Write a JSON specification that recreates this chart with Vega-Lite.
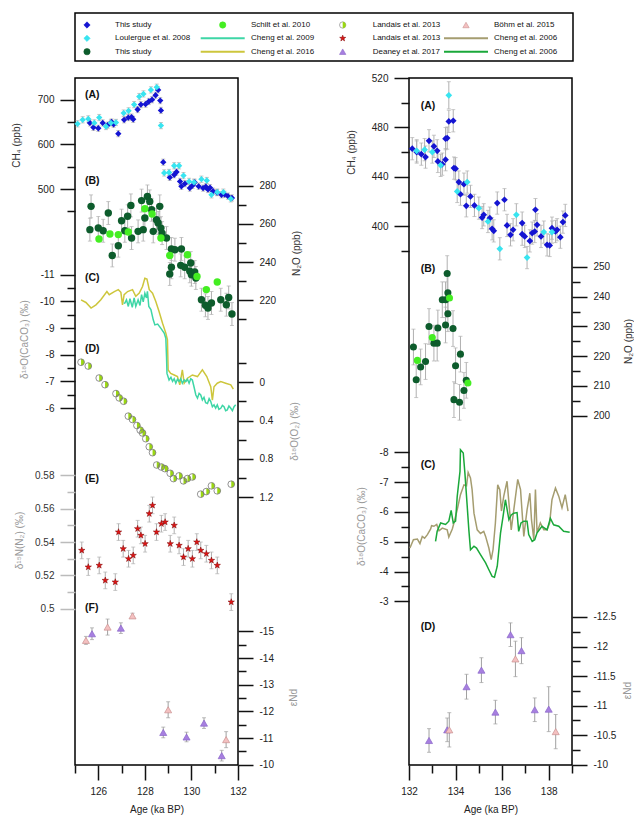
{
"$schema": "https://vega.github.io/schema/vega-lite/v6.json",
"padding": {"left": 10, "top": 12, "right": 0, "bottom": 0},
"background": "white",
"config": {
  "font": "Liberation Sans",
  "view": {"stroke": "black", "strokeWidth": 1.5},
  "axis": {"domain": false, "grid": false, "tickColor": "#111", "tickWidth": 1.5, "tickSize": 15, "labelFont": "Liberation Sans", "labelFontSize": 10, "labelColor": "#222", "labelPadding": 6, "labelFlush": false, "labelOverlap": false, "labelBound": false, "titleFont": "Liberation Sans", "titleFontSize": 10, "titleFontWeight": "normal", "titleColor": "#333", "labelExpr": "'' + datum.value"},
  "text": {"font": "Liberation Sans"}
},
"datasets": {
  "ch4L_this": [
    {"a":125.64,"v":648,"e":7},{"a":125.79,"v":638,"e":7},{"a":126.0,"v":636,"e":7},{"a":126.19,"v":648,"e":7},{"a":126.4,"v":643,"e":7},{"a":126.57,"v":650,"e":7},{"a":126.66,"v":645,"e":7},{"a":126.86,"v":624,"e":7},{"a":127.11,"v":655,"e":7},{"a":127.29,"v":660,"e":7},{"a":127.43,"v":661,"e":7},{"a":127.5,"v":656,"e":7},{"a":127.69,"v":678,"e":7},{"a":127.83,"v":689,"e":7},{"a":128.03,"v":690,"e":7},{"a":128.17,"v":696,"e":7},{"a":128.31,"v":700,"e":7},{"a":128.46,"v":710,"e":7},{"a":128.57,"v":722,"e":7},{"a":128.66,"v":698,"e":7},{"a":128.69,"v":676,"e":7},{"a":128.79,"v":560,"e":7},{"a":129.07,"v":526,"e":7},{"a":129.26,"v":532,"e":7},{"a":129.36,"v":538,"e":7},{"a":129.51,"v":517,"e":7},{"a":129.57,"v":506,"e":7},{"a":129.72,"v":512,"e":7},{"a":129.93,"v":502,"e":7},{"a":130.05,"v":508,"e":7},{"a":130.14,"v":515,"e":7},{"a":130.31,"v":506,"e":7},{"a":130.5,"v":502,"e":7},{"a":130.62,"v":505,"e":7},{"a":130.71,"v":499,"e":7},{"a":130.8,"v":503,"e":7},{"a":130.93,"v":495,"e":7},{"a":131.1,"v":492,"e":7},{"a":131.29,"v":487,"e":7},{"a":131.42,"v":488,"e":7},{"a":131.57,"v":484,"e":7},{"a":131.74,"v":480,"e":7}
  ],
  "ch4L_lou": [
    {"a":125.11,"v":646,"e":7},{"a":125.33,"v":655,"e":7},{"a":125.57,"v":657,"e":7},{"a":125.83,"v":648,"e":7},{"a":126.04,"v":660,"e":7},{"a":126.33,"v":640,"e":7},{"a":126.54,"v":648,"e":7},{"a":126.76,"v":649,"e":7},{"a":127.09,"v":670,"e":7},{"a":127.3,"v":675,"e":7},{"a":127.54,"v":689,"e":7},{"a":127.76,"v":707,"e":7},{"a":127.94,"v":713,"e":7},{"a":128.26,"v":722,"e":7},{"a":128.51,"v":728,"e":7},{"a":128.69,"v":642,"e":7},{"a":128.83,"v":536,"e":7},{"a":129.04,"v":537,"e":7},{"a":129.26,"v":552,"e":7},{"a":129.47,"v":552,"e":7},{"a":129.66,"v":530,"e":7},{"a":129.9,"v":517,"e":7},{"a":130.11,"v":515,"e":7},{"a":130.43,"v":522,"e":7},{"a":130.66,"v":519,"e":7},{"a":130.86,"v":487,"e":7},{"a":131.11,"v":493,"e":7},{"a":131.37,"v":493,"e":7},{"a":131.69,"v":478,"e":7}
  ],
  "n2oL_this": [
    {"a":125.69,"v":269.2,"e":6},{"a":125.64,"v":257.0,"e":6},{"a":126.0,"v":257.9,"e":6},{"a":126.21,"v":256.4,"e":6},{"a":126.43,"v":265.7,"e":6},{"a":126.6,"v":243.5,"e":6},{"a":126.86,"v":248.6,"e":6},{"a":127.0,"v":261.7,"e":6},{"a":127.14,"v":256.4,"e":6},{"a":127.26,"v":264.0,"e":6},{"a":127.4,"v":269.7,"e":6},{"a":127.43,"v":252.6,"e":6},{"a":127.71,"v":256.1,"e":6},{"a":127.86,"v":272.2,"e":6},{"a":127.93,"v":257.0,"e":6},{"a":128.0,"v":263.1,"e":6},{"a":128.11,"v":274.4,"e":6},{"a":128.21,"v":271.8,"e":6},{"a":128.29,"v":267.4,"e":6},{"a":128.36,"v":256.1,"e":6},{"a":128.5,"v":262.2,"e":6},{"a":128.64,"v":269.2,"e":6},{"a":128.57,"v":260.5,"e":6},{"a":128.69,"v":257.8,"e":6},{"a":128.74,"v":255.2,"e":6},{"a":128.93,"v":252.6,"e":6},{"a":129.14,"v":246.9,"e":6},{"a":129.29,"v":246.5,"e":6},{"a":129.57,"v":246.9,"e":6},{"a":129.14,"v":237.3,"e":6},{"a":129.07,"v":233.8,"e":6},{"a":129.54,"v":238.3,"e":6},{"a":129.71,"v":237.3,"e":6},{"a":129.97,"v":239.5,"e":6},{"a":129.93,"v":235.2,"e":6},{"a":130.0,"v":233.4,"e":6},{"a":130.14,"v":234.8,"e":6},{"a":130.19,"v":231.7,"e":6},{"a":130.43,"v":220.3,"e":6},{"a":130.6,"v":217.4,"e":6},{"a":130.71,"v":216.0,"e":6},{"a":130.86,"v":218.6,"e":6},{"a":131.26,"v":220.3,"e":6},{"a":131.5,"v":217.7,"e":6},{"a":131.6,"v":221.5,"e":6},{"a":131.74,"v":212.8,"e":6}
  ],
  "n2oL_sch": [
    {"a":126.03,"v":252.1},{"a":126.5,"v":254.7},{"a":126.86,"v":254.4},{"a":127.29,"v":255.8},{"a":128.0,"v":268.0},{"a":128.31,"v":265.2},{"a":128.69,"v":252.6},{"a":129.07,"v":243.5},{"a":129.83,"v":243.9},{"a":130.24,"v":232.5},{"a":130.64,"v":225.6},{"a":131.11,"v":229.6}
  ],
  "calL_16": [
    {"a":125.26,"v":-10.06},{"a":125.47,"v":-9.96},{"a":125.69,"v":-9.75},{"a":125.9,"v":-9.87},{"a":126.11,"v":-10.06},{"a":126.37,"v":-10.37},{"a":126.47,"v":-10.25},{"a":126.69,"v":-10.37},{"a":126.86,"v":-10.44},{"a":126.97,"v":-10.34},{"a":127.04,"v":-9.87},{"a":127.11,"v":-10.25},{"a":127.26,"v":-10.37},{"a":127.47,"v":-10.44},{"a":127.61,"v":-10.19},{"a":127.76,"v":-10.31},{"a":127.9,"v":-10.56},{"a":128.0,"v":-10.87},{"a":128.09,"v":-10.84},{"a":128.19,"v":-10.44},{"a":128.33,"v":-10.31},{"a":128.47,"v":-10.0},{"a":128.61,"v":-9.62},{"a":128.76,"v":-9.18},{"a":128.9,"v":-8.81},{"a":128.97,"v":-8.56},{"a":129.0,"v":-7.43},{"a":129.11,"v":-7.3},{"a":129.26,"v":-7.24},{"a":129.4,"v":-7.18},{"a":129.5,"v":-6.87},{"a":129.61,"v":-7.43},{"a":129.69,"v":-6.93},{"a":129.83,"v":-7.12},{"a":130.04,"v":-7.24},{"a":130.26,"v":-7.18},{"a":130.47,"v":-7.43},{"a":130.66,"v":-7.18},{"a":130.83,"v":-6.8},{"a":130.9,"v":-6.3},{"a":130.97,"v":-6.8},{"a":131.11,"v":-6.93},{"a":131.26,"v":-6.99},{"a":131.47,"v":-6.93},{"a":131.69,"v":-6.87},{"a":131.8,"v":-6.71}
  ],
  "calL_09": [
    {"a":127.09,"v":-9.93},{"a":127.14,"v":-9.94},{"a":127.21,"v":-10.06},{"a":127.29,"v":-9.81},{"a":127.36,"v":-10.1},{"a":127.46,"v":-9.78},{"a":127.54,"v":-10.13},{"a":127.61,"v":-9.81},{"a":127.71,"v":-10.06},{"a":127.79,"v":-9.85},{"a":127.86,"v":-10.25},{"a":127.93,"v":-9.98},{"a":128.0,"v":-10.31},{"a":128.07,"v":-10.13},{"a":128.11,"v":-10.38},{"a":128.17,"v":-9.81},{"a":128.26,"v":-9.69},{"a":128.36,"v":-9.31},{"a":128.43,"v":-9.12},{"a":128.55,"v":-9.15},{"a":128.69,"v":-8.99},{"a":128.83,"v":-8.81},{"a":128.9,"v":-8.62},{"a":128.93,"v":-7.93},{"a":128.95,"v":-7.3},{"a":129.04,"v":-7.05},{"a":129.12,"v":-7.15},{"a":129.19,"v":-7.0},{"a":129.26,"v":-7.1},{"a":129.33,"v":-6.93},{"a":129.4,"v":-7.08},{"a":129.47,"v":-7.0},{"a":129.54,"v":-7.1},{"a":129.61,"v":-6.93},{"a":129.69,"v":-7.05},{"a":129.76,"v":-6.99},{"a":129.83,"v":-7.08},{"a":129.9,"v":-6.93},{"a":129.97,"v":-7.1},{"a":130.04,"v":-7.05},{"a":130.11,"v":-6.8},{"a":130.19,"v":-6.49},{"a":130.26,"v":-6.37},{"a":130.33,"v":-6.55},{"a":130.4,"v":-6.49},{"a":130.47,"v":-6.3},{"a":130.54,"v":-6.4},{"a":130.61,"v":-6.2},{"a":130.69,"v":-6.17},{"a":130.76,"v":-6.35},{"a":130.83,"v":-6.24},{"a":130.9,"v":-6.05},{"a":130.97,"v":-6.12},{"a":131.04,"v":-6.0},{"a":131.11,"v":-6.12},{"a":131.18,"v":-5.95},{"a":131.26,"v":-5.99},{"a":131.33,"v":-6.1},{"a":131.4,"v":-6.05},{"a":131.47,"v":-5.9},{"a":131.54,"v":-5.93},{"a":131.61,"v":-6.08},{"a":131.69,"v":-5.99},{"a":131.76,"v":-5.9},{"a":131.83,"v":-6.05},{"a":131.9,"v":-6.12}
  ],
  "o2L": [
    {"a":125.26,"v":-0.21},{"a":125.57,"v":-0.17},{"a":126.04,"v":-0.045},{"a":126.29,"v":0.025},{"a":126.76,"v":0.118},{"a":126.9,"v":0.163},{"a":127.09,"v":0.198},{"a":127.29,"v":0.354},{"a":127.47,"v":0.389},{"a":127.66,"v":0.452},{"a":127.8,"v":0.5},{"a":127.9,"v":0.53},{"a":128.04,"v":0.59},{"a":128.19,"v":0.674},{"a":128.33,"v":0.736},{"a":128.51,"v":0.865},{"a":128.71,"v":0.886},{"a":128.86,"v":0.903},{"a":129.09,"v":0.952},{"a":129.23,"v":1.007},{"a":129.47,"v":0.979},{"a":129.66,"v":1.031},{"a":129.83,"v":1.007},{"a":130.04,"v":0.99},{"a":130.4,"v":1.17},{"a":130.64,"v":1.143},{"a":130.86,"v":1.083},{"a":131.11,"v":1.135},{"a":131.71,"v":1.066}
  ],
  "n15L": [
    {"a":125.29,"v":0.535,"e":0.005},{"a":125.57,"v":0.525,"e":0.005},{"a":126.04,"v":0.526,"e":0.005},{"a":126.3,"v":0.517,"e":0.005},{"a":126.73,"v":0.516,"e":0.005},{"a":126.87,"v":0.546,"e":0.005},{"a":127.07,"v":0.536,"e":0.005},{"a":127.3,"v":0.53,"e":0.005},{"a":127.5,"v":0.532,"e":0.005},{"a":127.69,"v":0.548,"e":0.005},{"a":127.83,"v":0.544,"e":0.005},{"a":128.01,"v":0.539,"e":0.005},{"a":128.19,"v":0.557,"e":0.005},{"a":128.33,"v":0.562,"e":0.005},{"a":128.5,"v":0.546,"e":0.005},{"a":128.71,"v":0.551,"e":0.005},{"a":128.87,"v":0.552,"e":0.005},{"a":129.09,"v":0.539,"e":0.005},{"a":129.26,"v":0.55,"e":0.005},{"a":129.47,"v":0.538,"e":0.005},{"a":129.66,"v":0.531,"e":0.005},{"a":129.86,"v":0.536,"e":0.005},{"a":130.04,"v":0.53,"e":0.005},{"a":130.23,"v":0.54,"e":0.005},{"a":130.4,"v":0.535,"e":0.005},{"a":130.64,"v":0.533,"e":0.005},{"a":130.86,"v":0.529,"e":0.005},{"a":131.11,"v":0.526,"e":0.005},{"a":131.71,"v":0.504,"e":0.005}
  ],
  "ndL_dea": [
    {"a":125.73,"v":-14.91,"e":0.22},{"a":126.97,"v":-15.12,"e":0.2},{"a":128.79,"v":-11.21,"e":0.2},{"a":129.79,"v":-11.04,"e":0.18},{"a":130.54,"v":-11.56,"e":0.2},{"a":131.3,"v":-10.34,"e":0.2}
  ],
  "ndL_boh": [
    {"a":125.47,"v":-14.66,"e":0.15},{"a":126.4,"v":-15.16,"e":0.3},{"a":127.47,"v":-15.58,"e":0.1},{"a":129.0,"v":-12.06,"e":0.3},{"a":131.49,"v":-10.94,"e":0.3}
  ],
  "ch4R_this": [
    {"a":132.14,"v":462.8,"e":9},{"a":132.33,"v":460.1,"e":9},{"a":132.53,"v":458.4,"e":9},{"a":132.71,"v":456,"e":9},{"a":132.86,"v":469.2,"e":9},{"a":133.07,"v":464.7,"e":9},{"a":133.21,"v":461.1,"e":9},{"a":133.24,"v":452.5,"e":9},{"a":133.43,"v":450.3,"e":9},{"a":133.57,"v":453.9,"e":9},{"a":133.57,"v":470.9,"e":9},{"a":133.64,"v":471.4,"e":9},{"a":133.71,"v":484.9,"e":9},{"a":133.9,"v":485.4,"e":9},{"a":133.93,"v":447.1,"e":9},{"a":134.0,"v":446.6,"e":9},{"a":134.14,"v":435.8,"e":9},{"a":134.21,"v":426,"e":9},{"a":134.36,"v":434.1,"e":9},{"a":134.46,"v":416.6,"e":9},{"a":134.64,"v":424.2,"e":9},{"a":134.81,"v":416.9,"e":9},{"a":135.14,"v":407.1,"e":9},{"a":135.21,"v":409.3,"e":9},{"a":135.47,"v":406.6,"e":9},{"a":135.57,"v":398,"e":9},{"a":135.64,"v":396.3,"e":9},{"a":135.79,"v":418.8,"e":9},{"a":136.1,"v":421.5,"e":9},{"a":136.21,"v":400.7,"e":9},{"a":136.36,"v":393.1,"e":9},{"a":136.47,"v":397.2,"e":9},{"a":136.86,"v":402.6,"e":9},{"a":136.86,"v":393.6,"e":9},{"a":136.97,"v":391.8,"e":9},{"a":137.19,"v":388.2,"e":9},{"a":137.29,"v":394.5,"e":9},{"a":137.4,"v":395.8,"e":9},{"a":137.43,"v":413.4,"e":9},{"a":137.5,"v":401.2,"e":9},{"a":137.67,"v":391.8,"e":9},{"a":137.93,"v":385,"e":9},{"a":138.04,"v":384.5,"e":9},{"a":138.14,"v":398.5,"e":9},{"a":138.29,"v":395.8,"e":9},{"a":138.36,"v":397.2,"e":9},{"a":138.5,"v":391.2,"e":9},{"a":138.61,"v":403.4,"e":9},{"a":138.71,"v":408.8,"e":9}
  ],
  "ch4R_lou": [
    {"a":132.33,"v":461.1,"e":9},{"a":132.67,"v":462,"e":9},{"a":133.0,"v":460.1,"e":9},{"a":133.36,"v":449.3,"e":9},{"a":133.71,"v":506,"e":11},{"a":134.07,"v":428.2,"e":9},{"a":134.5,"v":435.8,"e":9},{"a":135.0,"v":414.7,"e":9},{"a":135.39,"v":403.9,"e":9},{"a":135.9,"v":381.8,"e":9},{"a":136.61,"v":409.3,"e":9},{"a":137.07,"v":374.7,"e":9},{"a":137.79,"v":395.3,"e":9},{"a":138.14,"v":395.3,"e":9}
  ],
  "n2oR_this": [
    {"a":132.19,"v":223.1,"e":6},{"a":132.31,"v":212.1,"e":6},{"a":132.5,"v":216.4,"e":6},{"a":132.71,"v":218.2,"e":6},{"a":132.86,"v":230.0,"e":6},{"a":133.07,"v":224.4,"e":6},{"a":133.21,"v":224.4,"e":6},{"a":133.24,"v":229.5,"e":6},{"a":133.43,"v":239.0,"e":6},{"a":133.57,"v":230.5,"e":6},{"a":133.57,"v":239.0,"e":6},{"a":133.64,"v":247.8,"e":6},{"a":133.67,"v":241.3,"e":6},{"a":133.67,"v":234.3,"e":6},{"a":133.89,"v":229.3,"e":6},{"a":133.93,"v":205.4,"e":6},{"a":134.0,"v":216.8,"e":6},{"a":134.17,"v":204.5,"e":6},{"a":134.21,"v":220.7,"e":6},{"a":134.36,"v":208.5,"e":6},{"a":134.46,"v":211.9,"e":6}
  ],
  "n2oR_sch": [
    {"a":132.36,"v":218.6},{"a":133.0,"v":226.3},{"a":133.74,"v":239.6},{"a":134.53,"v":211.0}
  ],
  "calR_kh": [
    {"a":132.04,"v":-4.79},{"a":132.19,"v":-5.07},{"a":132.36,"v":-5.09},{"a":132.47,"v":-4.94},{"a":132.57,"v":-5.18},{"a":132.67,"v":-5.12},{"a":132.79,"v":-5.24},{"a":132.93,"v":-5.43},{"a":132.97,"v":-5.54},{"a":133.07,"v":-5.52},{"a":133.19,"v":-5.58},{"a":133.29,"v":-5.37},{"a":133.43,"v":-5.46},{"a":133.64,"v":-5.4},{"a":133.71,"v":-5.16},{"a":133.86,"v":-5.43},{"a":133.93,"v":-5.63},{"a":134.07,"v":-6.07},{"a":134.21,"v":-6.58},{"a":134.36,"v":-6.91},{"a":134.47,"v":-6.88},{"a":134.54,"v":-7.33},{"a":134.64,"v":-7.14},{"a":134.71,"v":-6.75},{"a":134.79,"v":-5.96},{"a":134.93,"v":-5.4},{"a":135.07,"v":-5.28},{"a":135.21,"v":-5.35},{"a":135.29,"v":-5.18},{"a":135.43,"v":-4.79},{"a":135.53,"v":-4.4},{"a":135.61,"v":-4.74},{"a":135.71,"v":-5.63},{"a":135.81,"v":-6.91},{"a":135.9,"v":-6.75},{"a":135.97,"v":-6.03},{"a":136.07,"v":-6.53},{"a":136.21,"v":-7.03},{"a":136.33,"v":-5.96},{"a":136.39,"v":-5.4},{"a":136.5,"v":-6.07},{"a":136.67,"v":-7.09},{"a":136.79,"v":-6.75},{"a":136.86,"v":-5.96},{"a":136.93,"v":-5.18},{"a":137.0,"v":-5.63},{"a":137.07,"v":-6.07},{"a":137.19,"v":-6.63},{"a":137.26,"v":-5.74},{"a":137.36,"v":-5.07},{"a":137.43,"v":-6.75},{"a":137.5,"v":-5.3},{"a":137.64,"v":-5.63},{"a":137.79,"v":-5.4},{"a":137.93,"v":-5.4},{"a":138.04,"v":-5.63},{"a":138.14,"v":-6.41},{"a":138.29,"v":-6.8},{"a":138.43,"v":-6.53},{"a":138.57,"v":-6.14},{"a":138.71,"v":-6.58},{"a":138.83,"v":-6.03}
  ],
  "calR_gr": [
    {"a":133.14,"v":-5.01},{"a":133.21,"v":-5.35},{"a":133.36,"v":-5.63},{"a":133.57,"v":-5.58},{"a":133.71,"v":-5.69},{"a":133.81,"v":-6.05},{"a":133.9,"v":-5.63},{"a":134.0,"v":-5.69},{"a":134.07,"v":-6.52},{"a":134.19,"v":-7.36},{"a":134.21,"v":-8.09},{"a":134.33,"v":-7.98},{"a":134.4,"v":-7.31},{"a":134.5,"v":-6.19},{"a":134.57,"v":-5.4},{"a":134.64,"v":-4.73},{"a":134.79,"v":-4.85},{"a":134.9,"v":-4.79},{"a":135.07,"v":-4.57},{"a":135.29,"v":-4.29},{"a":135.43,"v":-4.06},{"a":135.57,"v":-3.84},{"a":135.67,"v":-3.81},{"a":135.79,"v":-4.18},{"a":135.93,"v":-5.29},{"a":136.04,"v":-5.85},{"a":136.14,"v":-6.41},{"a":136.29,"v":-5.74},{"a":136.39,"v":-5.9},{"a":136.5,"v":-5.96},{"a":136.64,"v":-5.98},{"a":136.71,"v":-5.35},{"a":136.81,"v":-5.63},{"a":136.93,"v":-5.69},{"a":137.07,"v":-5.69},{"a":137.14,"v":-5.24},{"a":137.29,"v":-5.01},{"a":137.4,"v":-5.07},{"a":137.5,"v":-5.3},{"a":137.71,"v":-5.52},{"a":137.93,"v":-5.4},{"a":138.07,"v":-5.79},{"a":138.21,"v":-5.57},{"a":138.43,"v":-5.52},{"a":138.64,"v":-5.35},{"a":138.9,"v":-5.32}
  ],
  "ndR_dea": [
    {"a":132.86,"v":-10.41,"e":0.2},{"a":133.64,"v":-10.59,"e":0.2},{"a":134.47,"v":-11.32,"e":0.21},{"a":135.11,"v":-11.6,"e":0.21},{"a":135.71,"v":-10.89,"e":0.2},{"a":136.36,"v":-12.2,"e":0.2},{"a":136.83,"v":-11.93,"e":0.22},{"a":137.4,"v":-10.93,"e":0.2},{"a":138.0,"v":-10.94,"e":0.38}
  ],
  "ndR_boh": [
    {"a":133.73,"v":-10.59,"e":0.29},{"a":136.57,"v":-11.79,"e":0.3},{"a":138.3,"v":-10.56,"e":0.29}
  ],
  "labels": [
    {"p":"LA","t":"(A)","a":125.43,"v":710.5},{"p":"LB","t":"(B)","a":125.43,"v":282.5},{"p":"LC","t":"(C)","a":125.43,"v":-10.88},{"p":"LD","t":"(D)","a":125.43,"v":-0.348},{"p":"LE","t":"(E)","a":125.43,"v":0.5778},{"p":"LF","t":"(F)","a":125.43,"v":-15.87},
    {"p":"RA","t":"(A)","a":132.5,"v":497.3},{"p":"RB","t":"(B)","a":132.5,"v":249.4},{"p":"RC","t":"(C)","a":132.5,"v":-7.58},{"p":"RD","t":"(D)","a":132.5,"v":-12.33}
  ],
  "legend": [
    {"k":"a","m":"pt","c":0,"r":0,"t":"This study"},{"k":"b","m":"pt","c":0,"r":1,"t":"Loulergue et al. 2008"},{"k":"c","m":"pt","c":0,"r":2,"t":"This study"},
    {"k":"d","m":"pt","c":1,"r":0,"t":"Schilt et al. 2010"},{"k":"e","m":"ln","c":1,"r":1,"t":"Cheng et al. 2009"},{"k":"f","m":"ln","c":1,"r":2,"t":"Cheng et al. 2016"},
    {"k":"g","m":"pt","c":2,"r":0,"t":"Landais et al. 2013"},{"k":"h","m":"pt","c":2,"r":1,"t":"Landais et al. 2013"},{"k":"i","m":"pt","c":2,"r":2,"t":"Deaney et al. 2017"},
    {"k":"j","m":"pt","c":3,"r":0,"t":"Böhm et al. 2015"},{"k":"k","m":"ln","c":3,"r":1,"t":"Cheng et al. 2006"},{"k":"l","m":"ln","c":3,"r":2,"t":"Cheng et al. 2006"}
  ]
},
"spacing": 10,
"vconcat": [
  {
    "width": 498, "height": 48,
    "view": {"stroke": "black", "strokeWidth": 1.5},
    "data": {"name": "legend"},
    "encoding": {
      "x": {"field": "c", "type": "quantitative", "scale": {"domain": [0, 1, 2, 3], "range": [12, 147.7, 267.7, 391]}, "axis": null},
      "y": {"field": "r", "type": "quantitative", "scale": {"domain": [0, 2], "range": [12, 38.7]}, "axis": null}
    },
    "layer": [
      {"transform": [{"filter": "datum.m == 'ln'"}],
       "mark": {"type": "point", "shape": "stroke", "filled": false, "size": 1936, "strokeWidth": 2, "opacity": 1},
       "encoding": {
         "stroke": {"field": "k", "type": "nominal", "legend": null, "scale": {"domain": ["a","b","c","d","e","f","g","h","i","j","k","l"], "range": ["#1414d2","#38e4f0","#0d5c2c","#44ee22","#3ed6a6","#cdc63c","#777777","#8a0a0a","#8a66c8","#c89090","#a59d70","#1aa83a"]}}
       }},
      {"transform": [{"filter": "datum.m == 'pt'"}],
       "mark": {"type": "point", "filled": true, "size": 40, "strokeWidth": 0.6, "opacity": 1},
       "encoding": {
         "shape": {"field": "k", "type": "nominal", "legend": null, "scale": {"domain": ["a","b","c","d","e","f","g","h","i","j","k","l"], "range": ["diamond","diamond","circle","circle","stroke","stroke","circle","M0,-1L0.235,-0.324L0.951,-0.309L0.38,0.124L0.588,0.809L0,0.4L-0.588,0.809L-0.38,0.124L-0.951,-0.309L-0.235,-0.324Z","triangle-up","triangle-up","stroke","stroke"]}},
         "fill": {"field": "k", "type": "nominal", "legend": null, "scale": {"domain": ["a","b","c","d","e","f","g","h","i","j","k","l"], "range": ["#1414d2","#38e4f0","#0d5c2c","#44ee22","#3ed6a6","#cdc63c","#ffffff","#e01515","#a77fe0","#f4c0c0","#a59d70","#1aa83a"]}},
         "stroke": {"field": "k", "type": "nominal", "legend": null, "scale": {"domain": ["a","b","c","d","e","f","g","h","i","j","k","l"], "range": ["#1414d2","#38e4f0","#0d5c2c","#44ee22","#3ed6a6","#cdc63c","#777777","#8a0a0a","#8a66c8","#c89090","#a59d70","#1aa83a"]}}
       }},
      {"transform": [{"filter": "datum.k == 'g'"}], "mark": {"type": "point", "shape": "M0,-1A1,1,0,0,1,0,1Z", "filled": true, "color": "#9ad810", "size": 40, "opacity": 1}},
      {"mark": {"type": "text", "align": "left", "baseline": "middle", "fontSize": 8, "color": "#111"},
       "encoding": {"x": {"field": "c", "type": "quantitative", "scale": {"domain": [0, 1, 2, 3], "range": [40, 176, 297.7, 419]}, "axis": null}, "text": {"field": "t"}}}
    ],
    "resolve": {"scale": {"x": "independent"}}
  },
  {
    "spacing": 43,
    "hconcat": [
      {
        "width": 163, "height": 687,
        "layer": [
          {
            "encoding": {
              "x": {"field": "a", "type": "quantitative", "scale": {"domain": [125, 132], "nice": false, "zero": false}, "axis": {"orient": "bottom", "values": [126, 128, 130, 132], "title": "Age (ka BP)", "tickSize": 15, "labelPadding": 6, "titlePadding": 8, "titleColor": "#222"}},
              "y": {"field": "v", "type": "quantitative", "scale": {"domain": [-790, 748.6], "nice": false, "zero": false}, "axis": null}
            },
            "layer": [
              {"data": {"name": "ch4L_this"}, "mark": {"type": "errorbar", "color": "#b0b0b0", "thickness": 1, "ticks": {"size": 4}}, "encoding": {"yError": {"field": "e"}}},
              {"data": {"name": "ch4L_lou"}, "mark": {"type": "errorbar", "color": "#b0b0b0", "thickness": 1, "ticks": {"size": 4}}, "encoding": {"yError": {"field": "e"}}},
              {"data": {"name": "ch4L_this"}, "mark": {"type": "point", "shape": "diamond", "filled": true, "color": "#1414d2", "size": 40, "opacity": 1},
               "encoding": {"y": {"field": "v", "type": "quantitative", "scale": {"domain": [-790, 748.6], "nice": false, "zero": false}, "axis": {"orient": "left", "values": [500, 600, 700], "title": "CH₄ (ppb)", "titleX": -59, "titleY": 67, "titleAngle": 270, "titleBaseline": "middle", "titleAlign": "center"}}}},
              {"data": {"name": "ch4L_lou"}, "mark": {"type": "point", "shape": "diamond", "filled": true, "color": "#38e4f0", "size": 40, "opacity": 1}},
              {"data": {"name": "labels"}, "transform": [{"filter": "datum.p == 'LA'"}], "mark": {"type": "text", "fontWeight": "bold", "fontSize": 10.5, "align": "left", "baseline": "middle", "color": "#111"},
               "encoding": {"text": {"field": "t"}, "y": {"field": "v", "type": "quantitative", "scale": {"domain": [-790, 748.6], "nice": false, "zero": false}, "axis": {"orient": "left", "values": [450, 550, 650, 750], "labels": false, "tickSize": 8, "title": null}}}}
            ],
            "resolve": {"axis": {"y": "independent"}}
          },
          {
            "encoding": {
              "x": {"field": "a", "type": "quantitative", "scale": {"domain": [125, 132], "nice": false, "zero": false}, "axis": {"orient": "bottom", "values": [125, 127, 129, 131], "labels": false, "tickSize": 8, "title": null}},
              "y": {"field": "v", "type": "quantitative", "scale": {"domain": [-23.3, 336.4], "nice": false, "zero": false}, "axis": null}
            },
            "layer": [
              {"data": {"name": "n2oL_this"}, "mark": {"type": "errorbar", "color": "#b0b0b0", "thickness": 1, "ticks": {"size": 4}}, "encoding": {"yError": {"field": "e"}}},
              {"data": {"name": "n2oL_this"}, "mark": {"type": "point", "shape": "circle", "filled": true, "color": "#0d5c2c", "size": 55, "opacity": 1},
               "encoding": {"y": {"field": "v", "type": "quantitative", "scale": {"domain": [-23.3, 336.4], "nice": false, "zero": false}, "axis": {"orient": "right", "values": [220, 240, 260, 280], "title": "N₂O (ppb)", "titleX": 58, "titleY": 175, "titleAngle": 270, "titleBaseline": "middle", "titleAlign": "center"}}}},
              {"data": {"name": "n2oL_sch"}, "mark": {"type": "point", "shape": "circle", "filled": true, "color": "#44ee22", "size": 55, "opacity": 1}},
              {"data": {"name": "labels"}, "transform": [{"filter": "datum.p == 'LB'"}], "mark": {"type": "text", "fontWeight": "bold", "fontSize": 10.5, "align": "left", "baseline": "middle", "color": "#111"},
               "encoding": {"text": {"field": "t"}, "y": {"field": "v", "type": "quantitative", "scale": {"domain": [-23.3, 336.4], "nice": false, "zero": false}, "axis": {"orient": "right", "values": [210, 230, 250, 270], "labels": false, "tickSize": 8, "title": null}}}}
            ],
            "resolve": {"axis": {"y": "independent"}}
          },
          {
            "encoding": {
              "x": {"field": "a", "type": "quantitative", "scale": {"domain": [125, 132], "nice": false, "zero": false}, "axis": null},
              "y": {"field": "v", "type": "quantitative", "scale": {"domain": [-18.38, 7.39], "reverse": true, "nice": false, "zero": false}, "axis": null}
            },
            "layer": [
              {"data": {"name": "calL_16"}, "mark": {"type": "line", "color": "#cdc63c", "strokeWidth": 1.5},
               "encoding": {"y": {"field": "v", "type": "quantitative", "scale": {"domain": [-18.38, 7.39], "reverse": true, "nice": false, "zero": false}, "axis": {"orient": "left", "values": [-11, -10, -9, -8, -7, -6], "title": "δ¹⁸O(CaCO₃) (‰)", "titleColor": "#999", "titleX": -51, "titleY": 261, "titleAngle": 270, "titleBaseline": "middle", "titleAlign": "center"}}}},
              {"data": {"name": "calL_09"}, "mark": {"type": "line", "color": "#3ed6a6", "strokeWidth": 1.5}},
              {"data": {"name": "labels"}, "transform": [{"filter": "datum.p == 'LC'"}], "mark": {"type": "text", "fontWeight": "bold", "fontSize": 10.5, "align": "left", "baseline": "middle", "color": "#111"},
               "encoding": {"text": {"field": "t"}, "y": {"field": "v", "type": "quantitative", "scale": {"domain": [-18.38, 7.39], "reverse": true, "nice": false, "zero": false}, "axis": {"orient": "left", "values": [-10.5, -9.5, -8.5, -7.5, -6.5], "labels": false, "tickSize": 8, "title": null}}}}
            ],
            "resolve": {"axis": {"y": "independent"}}
          },
          {
            "encoding": {
              "x": {"field": "a", "type": "quantitative", "scale": {"domain": [125, 132], "nice": false, "zero": false}, "axis": null},
              "y": {"field": "v", "type": "quantitative", "scale": {"domain": [-3.183, 4.003], "reverse": true, "nice": false, "zero": false}, "axis": null}
            },
            "layer": [
              {"data": {"name": "o2L"}, "mark": {"type": "point", "shape": "circle", "filled": true, "color": "#ffffff", "size": 45, "opacity": 1},
               "encoding": {"y": {"field": "v", "type": "quantitative", "scale": {"domain": [-3.183, 4.003], "reverse": true, "nice": false, "zero": false}, "axis": {"orient": "right", "values": [0, 0.4, 0.8, 1.2], "title": "δ¹⁸O(O₂) (‰)", "titleColor": "#999", "titleX": 56, "titleY": 353, "titleAngle": 270, "titleBaseline": "middle", "titleAlign": "center"}}}},
              {"data": {"name": "o2L"}, "mark": {"type": "point", "shape": "M0,-1A1,1,0,0,1,0,1Z", "filled": true, "color": "#9ad810", "size": 45, "opacity": 1}},
              {"data": {"name": "o2L"}, "mark": {"type": "point", "shape": "circle", "filled": false, "color": "#777777", "strokeWidth": 0.8, "size": 45, "opacity": 1}},
              {"data": {"name": "labels"}, "transform": [{"filter": "datum.p == 'LD'"}], "mark": {"type": "text", "fontWeight": "bold", "fontSize": 10.5, "align": "left", "baseline": "middle", "color": "#111"},
               "encoding": {"text": {"field": "t"}, "y": {"field": "v", "type": "quantitative", "scale": {"domain": [-3.183, 4.003], "reverse": true, "nice": false, "zero": false}, "axis": {"orient": "right", "values": [-0.2, 0.2, 0.6, 1.0], "labels": false, "tickSize": 8, "title": null}}}}
            ],
            "resolve": {"axis": {"y": "independent"}}
          },
          {
            "encoding": {
              "x": {"field": "a", "type": "quantitative", "scale": {"domain": [125, 132], "nice": false, "zero": false}, "axis": null},
              "y": {"field": "v", "type": "quantitative", "scale": {"domain": [0.4063, 0.8183], "nice": false, "zero": false}, "axis": null}
            },
            "layer": [
              {"data": {"name": "n15L"}, "mark": {"type": "errorbar", "color": "#b0b0b0", "thickness": 1, "ticks": {"size": 4}}, "encoding": {"yError": {"field": "e"}}},
              {"data": {"name": "n15L"}, "mark": {"type": "point", "shape": "M0,-1L0.235,-0.324L0.951,-0.309L0.38,0.124L0.588,0.809L0,0.4L-0.588,0.809L-0.38,0.124L-0.951,-0.309L-0.235,-0.324Z", "filled": true, "fill": "#e01515", "stroke": "#7a0000", "strokeWidth": 0.5, "size": 45, "opacity": 1},
               "encoding": {"y": {"field": "v", "type": "quantitative", "scale": {"domain": [0.4063, 0.8183], "nice": false, "zero": false}, "axis": {"orient": "left", "values": [0.5, 0.52, 0.54, 0.56, 0.58], "tickColor": "#bbbbbb", "labelColor": "#333", "title": "δ¹⁵N(N₂) (‰)", "titleColor": "#999", "titleX": -56, "titleY": 462, "titleAngle": 270, "titleBaseline": "middle", "titleAlign": "center"}}}},
              {"data": {"name": "labels"}, "transform": [{"filter": "datum.p == 'LE'"}], "mark": {"type": "text", "fontWeight": "bold", "fontSize": 10.5, "align": "left", "baseline": "middle", "color": "#111"},
               "encoding": {"text": {"field": "t"}, "y": {"field": "v", "type": "quantitative", "scale": {"domain": [0.4063, 0.8183], "nice": false, "zero": false}, "axis": {"orient": "left", "values": [0.51, 0.53, 0.55, 0.57], "tickColor": "#bbbbbb", "labels": false, "tickSize": 8, "title": null}}}}
            ],
            "resolve": {"axis": {"y": "independent"}}
          },
          {
            "encoding": {
              "x": {"field": "a", "type": "quantitative", "scale": {"domain": [125, 132], "nice": false, "zero": false}, "axis": null},
              "y": {"field": "v", "type": "quantitative", "scale": {"domain": [-35.74, -9.99], "reverse": true, "nice": false, "zero": false}, "axis": null}
            },
            "layer": [
              {"data": {"name": "ndL_dea"}, "mark": {"type": "errorbar", "color": "#a0a0a0", "thickness": 1, "ticks": {"size": 4}}, "encoding": {"yError": {"field": "e"}}},
              {"data": {"name": "ndL_boh"}, "mark": {"type": "errorbar", "color": "#a0a0a0", "thickness": 1, "ticks": {"size": 4}}, "encoding": {"yError": {"field": "e"}}},
              {"data": {"name": "ndL_dea"}, "mark": {"type": "point", "shape": "triangle-up", "filled": true, "fill": "#a77fe0", "stroke": "#8a66c8", "strokeWidth": 0.7, "size": 50, "opacity": 1},
               "encoding": {"y": {"field": "v", "type": "quantitative", "scale": {"domain": [-35.74, -9.99], "reverse": true, "nice": false, "zero": false}, "axis": {"orient": "right", "values": [-15, -14, -13, -12, -11, -10], "title": "εNd", "titleColor": "#999", "titleX": 55, "titleY": 619, "titleAngle": 270, "titleBaseline": "middle", "titleAlign": "center"}}}},
              {"data": {"name": "ndL_boh"}, "mark": {"type": "point", "shape": "triangle-up", "filled": true, "fill": "#f4c0c0", "stroke": "#c89090", "strokeWidth": 0.7, "size": 50, "opacity": 1}},
              {"data": {"name": "labels"}, "transform": [{"filter": "datum.p == 'LF'"}], "mark": {"type": "text", "fontWeight": "bold", "fontSize": 10.5, "align": "left", "baseline": "middle", "color": "#111"},
               "encoding": {"text": {"field": "t"}, "y": {"field": "v", "type": "quantitative", "scale": {"domain": [-35.74, -9.99], "reverse": true, "nice": false, "zero": false}, "axis": {"orient": "right", "values": [-14.5, -13.5, -12.5, -11.5, -10.5], "labels": false, "tickSize": 8, "title": null}}}}
            ],
            "resolve": {"axis": {"y": "independent"}}
          }
        ],
        "resolve": {"scale": {"y": "independent"}, "axis": {"x": "independent", "y": "independent"}}
      },
      {
        "width": 163, "height": 687,
        "layer": [
          {
            "encoding": {
              "x": {"field": "a", "type": "quantitative", "scale": {"domain": [132, 139], "nice": false, "zero": false}, "axis": {"orient": "bottom", "values": [132, 134, 136, 138], "title": "Age (ka BP)", "tickSize": 15, "labelPadding": 6, "titlePadding": 8, "titleColor": "#222"}},
              "y": {"field": "v", "type": "quantitative", "scale": {"domain": [-35.9, 520], "nice": false, "zero": false}, "axis": null}
            },
            "layer": [
              {"data": {"name": "ch4R_this"}, "mark": {"type": "errorbar", "color": "#b0b0b0", "thickness": 1, "ticks": {"size": 4}}, "encoding": {"yError": {"field": "e"}}},
              {"data": {"name": "ch4R_lou"}, "mark": {"type": "errorbar", "color": "#b0b0b0", "thickness": 1, "ticks": {"size": 4}}, "encoding": {"yError": {"field": "e"}}},
              {"data": {"name": "ch4R_this"}, "mark": {"type": "point", "shape": "diamond", "filled": true, "color": "#1414d2", "size": 45, "opacity": 1},
               "encoding": {"y": {"field": "v", "type": "quantitative", "scale": {"domain": [-35.9, 520], "nice": false, "zero": false}, "axis": {"orient": "left", "values": [400, 440, 480, 520], "title": "CH₄ (ppb)", "titleX": -58, "titleY": 74, "titleAngle": 270, "titleBaseline": "middle", "titleAlign": "center"}}}},
              {"data": {"name": "ch4R_lou"}, "mark": {"type": "point", "shape": "diamond", "filled": true, "color": "#38e4f0", "size": 45, "opacity": 1}},
              {"data": {"name": "labels"}, "transform": [{"filter": "datum.p == 'RA'"}], "mark": {"type": "text", "fontWeight": "bold", "fontSize": 10.5, "align": "left", "baseline": "middle", "color": "#111"},
               "encoding": {"text": {"field": "t"}, "y": {"field": "v", "type": "quantitative", "scale": {"domain": [-35.9, 520], "nice": false, "zero": false}, "axis": {"orient": "left", "values": [380, 420, 460, 500], "labels": false, "tickSize": 8, "title": null}}}}
            ],
            "resolve": {"axis": {"y": "independent"}}
          },
          {
            "encoding": {
              "x": {"field": "a", "type": "quantitative", "scale": {"domain": [132, 139], "nice": false, "zero": false}, "axis": {"orient": "bottom", "values": [133, 135, 137, 139], "labels": false, "tickSize": 8, "title": null}},
              "y": {"field": "v", "type": "quantitative", "scale": {"domain": [82.55, 313.55], "nice": false, "zero": false}, "axis": null}
            },
            "layer": [
              {"data": {"name": "n2oR_this"}, "mark": {"type": "errorbar", "color": "#b0b0b0", "thickness": 1, "ticks": {"size": 4}}, "encoding": {"yError": {"field": "e"}}},
              {"data": {"name": "n2oR_this"}, "mark": {"type": "point", "shape": "circle", "filled": true, "color": "#0d5c2c", "size": 50, "opacity": 1},
               "encoding": {"y": {"field": "v", "type": "quantitative", "scale": {"domain": [82.55, 313.55], "nice": false, "zero": false}, "axis": {"orient": "right", "values": [200, 210, 220, 230, 240, 250], "title": "N₂O (ppb)", "titleX": 56, "titleY": 263, "titleAngle": 270, "titleBaseline": "middle", "titleAlign": "center"}}}},
              {"data": {"name": "n2oR_sch"}, "mark": {"type": "point", "shape": "circle", "filled": true, "color": "#44ee22", "size": 50, "opacity": 1}},
              {"data": {"name": "labels"}, "transform": [{"filter": "datum.p == 'RB'"}], "mark": {"type": "text", "fontWeight": "bold", "fontSize": 10.5, "align": "left", "baseline": "middle", "color": "#111"},
               "encoding": {"text": {"field": "t"}, "y": {"field": "v", "type": "quantitative", "scale": {"domain": [82.55, 313.55], "nice": false, "zero": false}, "axis": {"orient": "right", "values": [205, 215, 225, 235, 245], "labels": false, "tickSize": 8, "title": null}}}}
            ],
            "resolve": {"axis": {"y": "independent"}}
          },
          {
            "encoding": {
              "x": {"field": "a", "type": "quantitative", "scale": {"domain": [132, 139], "nice": false, "zero": false}, "axis": null},
              "y": {"field": "v", "type": "quantitative", "scale": {"domain": [-20.56, 2.49], "reverse": true, "nice": false, "zero": false}, "axis": null}
            },
            "layer": [
              {"data": {"name": "calR_kh"}, "mark": {"type": "line", "color": "#a59d70", "strokeWidth": 1.5},
               "encoding": {"y": {"field": "v", "type": "quantitative", "scale": {"domain": [-20.56, 2.49], "reverse": true, "nice": false, "zero": false}, "axis": {"orient": "left", "values": [-8, -7, -6, -5, -4, -3], "title": "δ¹⁸O(CaCO₃) (‰)", "titleColor": "#999", "titleX": -48, "titleY": 448, "titleAngle": 270, "titleBaseline": "middle", "titleAlign": "center"}}}},
              {"data": {"name": "calR_gr"}, "mark": {"type": "line", "color": "#1aa83a", "strokeWidth": 1.5}},
              {"data": {"name": "labels"}, "transform": [{"filter": "datum.p == 'RC'"}], "mark": {"type": "text", "fontWeight": "bold", "fontSize": 10.5, "align": "left", "baseline": "middle", "color": "#111"},
               "encoding": {"text": {"field": "t"}, "y": {"field": "v", "type": "quantitative", "scale": {"domain": [-20.56, 2.49], "reverse": true, "nice": false, "zero": false}, "axis": {"orient": "left", "values": [-7.5, -6.5, -5.5, -4.5, -3.5], "labels": false, "tickSize": 8, "title": null}}}}
            ],
            "resolve": {"axis": {"y": "independent"}}
          },
          {
            "encoding": {
              "x": {"field": "a", "type": "quantitative", "scale": {"domain": [132, 139], "nice": false, "zero": false}, "axis": null},
              "y": {"field": "v", "type": "quantitative", "scale": {"domain": [-21.62, -9.995], "reverse": true, "nice": false, "zero": false}, "axis": null}
            },
            "layer": [
              {"data": {"name": "ndR_dea"}, "mark": {"type": "errorbar", "color": "#a0a0a0", "thickness": 1, "ticks": {"size": 4}}, "encoding": {"yError": {"field": "e"}}},
              {"data": {"name": "ndR_boh"}, "mark": {"type": "errorbar", "color": "#a0a0a0", "thickness": 1, "ticks": {"size": 4}}, "encoding": {"yError": {"field": "e"}}},
              {"data": {"name": "ndR_dea"}, "mark": {"type": "point", "shape": "triangle-up", "filled": true, "fill": "#a77fe0", "stroke": "#8a66c8", "strokeWidth": 0.7, "size": 50, "opacity": 1},
               "encoding": {"y": {"field": "v", "type": "quantitative", "scale": {"domain": [-21.62, -9.995], "reverse": true, "nice": false, "zero": false}, "axis": {"orient": "right", "values": [-12.5, -12, -11.5, -11, -10.5, -10], "title": "εNd", "titleColor": "#999", "titleX": 55, "titleY": 612, "titleAngle": 270, "titleBaseline": "middle", "titleAlign": "center"}}}},
              {"data": {"name": "ndR_boh"}, "mark": {"type": "point", "shape": "triangle-up", "filled": true, "fill": "#f4c0c0", "stroke": "#c89090", "strokeWidth": 0.7, "size": 50, "opacity": 1}},
              {"data": {"name": "labels"}, "transform": [{"filter": "datum.p == 'RD'"}], "mark": {"type": "text", "fontWeight": "bold", "fontSize": 10.5, "align": "left", "baseline": "middle", "color": "#111"},
               "encoding": {"text": {"field": "t"}, "y": {"field": "v", "type": "quantitative", "scale": {"domain": [-21.62, -9.995], "reverse": true, "nice": false, "zero": false}, "axis": {"orient": "right", "values": [-12.25, -11.75, -11.25, -10.75, -10.25], "labels": false, "tickSize": 8, "title": null}}}}
            ],
            "resolve": {"axis": {"y": "independent"}}
          }
        ],
        "resolve": {"scale": {"y": "independent"}, "axis": {"x": "independent", "y": "independent"}}
      }
    ]
  }
]
}
